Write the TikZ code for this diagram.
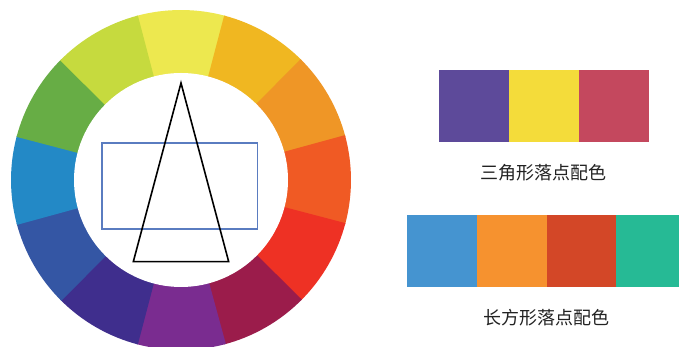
\documentclass[tikz,border=0pt]{standalone}
\usepackage{fontspec}
\newfontfamily\cjk{Noto Sans CJK SC}
\definecolor{wA}{HTML}{EDE84F}
\definecolor{wB}{HTML}{F0B721}
\definecolor{wC}{HTML}{EF9626}
\definecolor{wD}{HTML}{F05A24}
\definecolor{wE}{HTML}{EE3124}
\definecolor{wF}{HTML}{9B1C4B}
\definecolor{wG}{HTML}{7A2C90}
\definecolor{wH}{HTML}{3F2E8D}
\definecolor{wI}{HTML}{3456A4}
\definecolor{wJ}{HTML}{2389C6}
\definecolor{wK}{HTML}{67AD45}
\definecolor{wL}{HTML}{C6DA3E}
\definecolor{pA}{HTML}{5D4A9A}
\definecolor{pB}{HTML}{F4DC3A}
\definecolor{pC}{HTML}{C4485E}
\definecolor{qA}{HTML}{4594D0}
\definecolor{qB}{HTML}{F6922F}
\definecolor{qC}{HTML}{D34727}
\definecolor{qD}{HTML}{26BA95}
\definecolor{rectblue}{HTML}{5A7CC0}
\definecolor{txt}{HTML}{222222}
\begin{document}
\begin{tikzpicture}[x=1pt,y=1pt,
  swatch/.style={draw=none,inner sep=0pt,minimum width=70pt,anchor=north west},
  label/.style={font=\cjk\fontsize{18}{20}\selectfont,text=txt,inner sep=0pt}]
\useasboundingbox (0,0) rectangle (679,347);
\clip (0,0) rectangle (679,347);
\fill[white] (0,0) rectangle (679,347);
% colour wheel
\foreach \a/\c in {90/wA,60/wB,30/wC,0/wD,-30/wE,-60/wF,-90/wG,-120/wH,-150/wI,180/wJ,150/wK,120/wL}{
  \fill[\c,shift={(181,167)}] (\a-15.3:106pt) -- (\a-15.3:170pt)
    arc[start angle=\a-15.3,end angle=\a+15.3,radius=170pt] -- (\a+15.3:106pt)
    arc[start angle=\a+15.3,end angle=\a-15.3,radius=106pt] -- cycle;
}
\fill[white] (181,167) circle[radius=107pt];
% rectangle and triangle
\draw[rectblue,line width=1.2pt] (102,118) rectangle (257.7,204);
\draw[black,line width=1.6pt,line join=miter] (181,264) -- (228.7,85.3) -- (133.3,85.3) -- cycle;
% palette 1
\node[swatch,fill=pA,minimum height=71.7pt] (p1) at (439,277) {};
\node[swatch,fill=pB,minimum height=71.7pt] (p2) at (509,277) {};
\node[swatch,fill=pC,minimum height=71.7pt] (p3) at (579,277) {};
\node[label] (t1) at (543.5,174) {三角形落点配色};
% palette 2
\node[swatch,fill=qA,minimum height=72.3pt] (q1) at (406.7,132) {};
\node[swatch,fill=qB,minimum height=72.3pt] (q2) at (476.3,132) {};
\node[swatch,fill=qC,minimum height=72.3pt] (q3) at (546.3,132) {};
\node[swatch,fill=qD,minimum height=72.3pt] (q4) at (615.7,132) {};
\node[label] (t2) at (546,29) {长方形落点配色};
\end{tikzpicture}
\end{document}
